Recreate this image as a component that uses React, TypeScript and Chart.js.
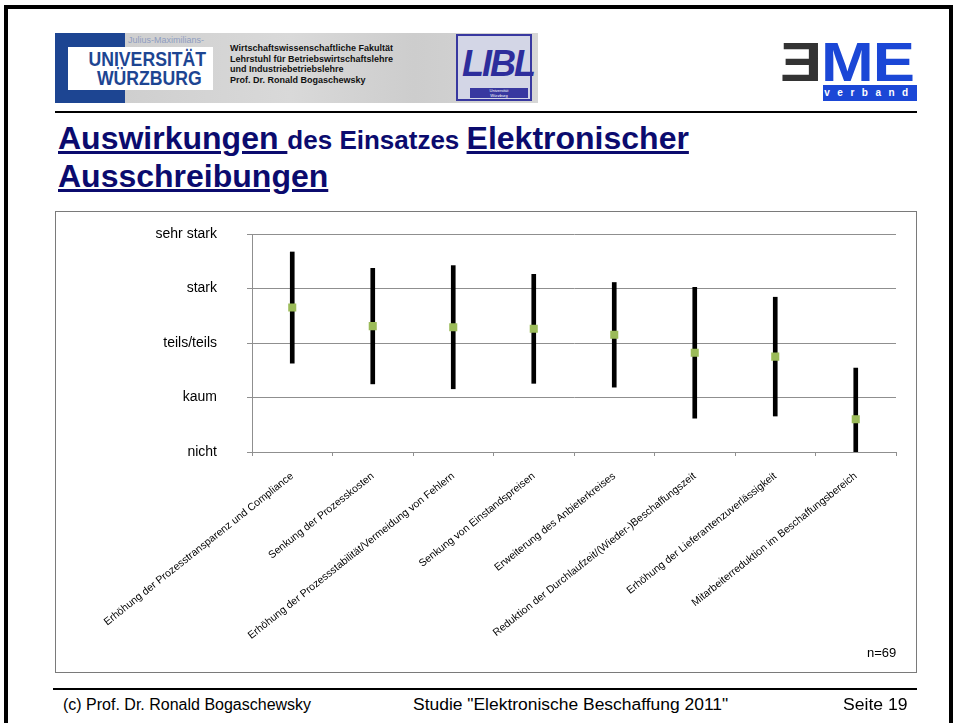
import React, { useEffect, useRef } from 'react';
import { Chart, registerables } from 'chart.js';

Chart.register(...registerables);

const categories = [
  'Erhöhung der Prozesstransparenz und Compliance',
  'Senkung der Prozesskosten',
  'Erhöhung der Prozessstabilität/Vermeidung von Fehlern',
  'Senkung von Einstandspreisen',
  'Erweiterung des Anbieterkreises',
  'Reduktion der Durchlaufzeit/(Wieder-)Beschaffungszeit',
  'Erhöhung der Lieferantenzuverlässigkeit',
  'Mitarbeiterreduktion im Beschaffungsbereich',
];
const means = [3.65, 3.31, 3.29, 3.26, 3.15, 2.82, 2.75, 1.6];
const spreads = [1.02, 1.06, 1.13, 1.0, 0.96, 1.2, 1.09, 0.94];
const levelLabels = ['nicht', 'kaum', 'teils/teils', 'stark', 'sehr stark'];

const FONT = '"Liberation Sans", Arial, sans-serif';
const NAVY = '#0b0b6e';

function ChartBox() {
  const ref = useRef<HTMLCanvasElement | null>(null);
  useEffect(() => {
    if (!ref.current) return;
    const gridColor = '#8f8f8f';
    const chart = new Chart(ref.current, {
      type: 'bar',
      data: {
        labels: categories,
        datasets: [
          {
            type: 'line',
            data: means,
            showLine: false,
            pointStyle: 'rect',
            pointRadius: 5.7,
            pointBackgroundColor: '#9BBB59',
            pointBorderColor: '#9BBB59',
            pointBorderWidth: 0,
            order: 0,
          } as any,
          {
            type: 'bar',
            data: means.map((m, i) => [m - spreads[i], m + spreads[i]]),
            backgroundColor: '#000',
            barThickness: 4,
            order: 1,
          } as any,
        ],
      },
      options: {
        animation: false,
        responsive: false,
        plugins: { legend: { display: false }, tooltip: { enabled: false } },
        layout: { padding: { top: 22, right: 20, left: 0, bottom: 0 } },
        scales: {
          x: {
            afterFit: (s: any) => {
              s.height = 220;
            },
            border: { display: true, color: gridColor },
            grid: { display: true, drawOnChartArea: false, drawTicks: true, tickLength: 4, color: gridColor },
            ticks: {
              autoSkip: false,
              minRotation: 38.5,
              maxRotation: 38.5,
              padding: 14,
              color: '#000',
              font: { size: 10.5, family: FONT },
            },
          },
          y: {
            min: 1,
            max: 5,
            afterFit: (s: any) => {
              s.width = 196;
              s.paddingTop = 8;
              s.paddingBottom = 8;
            },
            border: { display: true, color: gridColor },
            grid: { color: gridColor, drawTicks: true, tickLength: 5 },
            ticks: {
              stepSize: 1,
              padding: 30,
              color: '#000',
              font: { size: 14, family: FONT },
              callback: (v: any) => levelLabels[Number(v) - 1] ?? '',
            },
          },
        },
      },
    });
    return () => chart.destroy();
  }, []);
  return <canvas ref={ref} width={860} height={460} style={{ display: 'block' }} />;
}

export default function App() {
  const abs = (s: React.CSSProperties): React.CSSProperties => ({ position: 'absolute', ...s });
  return (
    <div style={abs({ left: 0, top: 0, width: 954, height: 723, background: '#fff', overflow: 'hidden', fontFamily: FONT })}>
      {/* slide border */}
      <div style={abs({ left: 4, top: 5, width: 949, height: 800, border: '4px solid #000', boxSizing: 'border-box' })} />

      {/* Uni Würzburg logo */}
      <div style={abs({ left: 125, top: 33, width: 413, height: 70, background: 'linear-gradient(90deg,#cfcfcf,#d9d9d9 40%,#cdcdcd 70%,#d6d6d6)' })} />
      <div style={abs({ left: 55, top: 33, width: 70, height: 70, background: '#1d4592' })} />
      <div style={abs({ left: 128, top: 35, fontSize: 9, color: '#8e9cc0', whiteSpace: 'nowrap' })}>Julius-Maximilians-</div>
      <div style={abs({ left: 68, top: 47, width: 145, height: 43, background: '#fff' })} />
      <div style={abs({ left: 70, top: 49, width: 160, fontSize: 21, lineHeight: '19px', fontWeight: 'bold', color: '#1d4592', transform: 'scaleX(0.84)', transformOrigin: 'left top', whiteSpace: 'nowrap' })}>
        <div style={{ paddingLeft: 22 }}>UNIVERSITÄT</div>
        <div style={{ paddingLeft: 32 }}>WÜRZBURG</div>
      </div>
      <div style={abs({ left: 230, top: 43, fontSize: 9, lineHeight: '10.5px', fontWeight: 'bold', color: '#111', whiteSpace: 'nowrap' })}>
        <div>Wirtschaftswissenschaftliche Fakultät</div>
        <div>Lehrstuhl für Betriebswirtschaftslehre</div>
        <div>und Industriebetriebslehre</div>
        <div>Prof. Dr. Ronald Bogaschewsky</div>
      </div>
      {/* LIBL logo */}
      <div style={abs({ left: 456, top: 34, width: 76, height: 67, background: '#d3d6e6', border: '2px solid #3838a0', boxSizing: 'border-box' })} />
      <div style={abs({ left: 462, top: 44, fontSize: 36, fontWeight: 'bold', fontStyle: 'italic', color: '#2d2d9c', lineHeight: '40px', whiteSpace: 'nowrap', letterSpacing: -2 })}>LIBL</div>
      <div style={abs({ left: 470, top: 88, width: 58, height: 10, background: '#3838a0', color: '#fff', fontSize: 4, lineHeight: '5px', textAlign: 'center' })}>Universität<br />Würzburg</div>

      {/* BME logo */}
      <div style={abs({ left: 780, top: 30, fontSize: 56, fontWeight: 'bold', lineHeight: '64px', whiteSpace: 'nowrap', transform: 'scaleX(1.13)', transformOrigin: 'left top', letterSpacing: -1 })}>
        <span style={{ color: '#333' }}>Ǝ</span>
        <span style={{ color: '#1b47d6' }}>ME</span>
      </div>
      <div style={abs({ left: 823, top: 85, width: 94, height: 16, background: '#1b47d6', color: '#fff', fontSize: 10, lineHeight: '16px', letterSpacing: 7.5, textAlign: 'center', fontWeight: 'bold' })}>verband</div>

      {/* header line */}
      <div style={abs({ left: 55, top: 111, width: 862, height: 1.5, background: '#000' })} />

      {/* title */}
      <div style={abs({ left: 58, top: 120, width: 860, fontSize: 32, lineHeight: '36px', fontWeight: 'bold', color: NAVY, whiteSpace: 'nowrap' })}>
        <div>
          <span style={{ textDecoration: 'underline', textDecorationThickness: 3 }}>Auswirkungen </span>
          <span style={{ fontSize: 26 }}>des Einsatzes </span>
          <span style={{ textDecoration: 'underline', textDecorationThickness: 3 }}>Elektronischer</span>
        </div>
        <div>
          <span style={{ textDecoration: 'underline', textDecorationThickness: 3 }}>Ausschreibungen</span>
        </div>
      </div>

      {/* chart box */}
      <div style={abs({ left: 55, top: 211, width: 862, height: 462, border: '1px solid #7a7a7a', boxSizing: 'border-box', background: '#fff' })}>
        <ChartBox />
      </div>
      <div style={abs({ left: 867, top: 645, fontSize: 13, color: '#000', whiteSpace: 'nowrap' })}>n=69</div>

      {/* footer */}
      <div style={abs({ left: 53, top: 688, width: 864, height: 1.5, background: '#000' })} />
      <div style={abs({ left: 63, top: 696, fontSize: 16, color: '#000', whiteSpace: 'nowrap' })}>(c) Prof. Dr. Ronald Bogaschewsky</div>
      <div style={abs({ left: 413, top: 696, fontSize: 16, color: '#000', whiteSpace: 'nowrap', transform: 'scaleX(1.09)', transformOrigin: 'left top' })}>Studie "Elektronische Beschaffung 2011"</div>
      <div style={abs({ left: 843, top: 696, fontSize: 16, color: '#000', whiteSpace: 'nowrap', transform: 'scaleX(1.1)', transformOrigin: 'left top' })}>Seite 19</div>
    </div>
  );
}
